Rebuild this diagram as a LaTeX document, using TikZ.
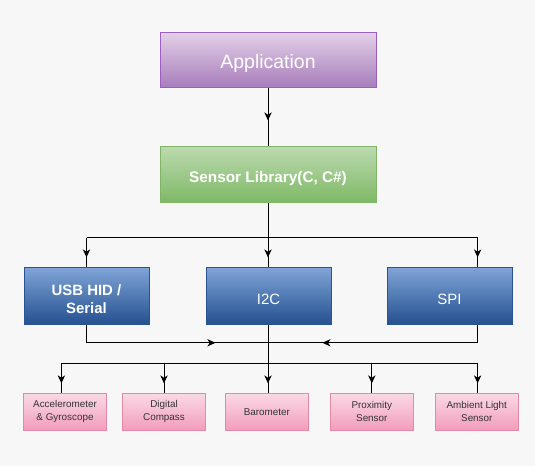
\documentclass[tikz,border=0pt]{standalone}
\usepackage{fontspec}
\setmainfont{Liberation Sans}
\usetikzlibrary{arrows.meta,decorations.markings}
\definecolor{bg}{HTML}{F7F7F7}
\definecolor{purT}{HTML}{E3CFE8}
\definecolor{purB}{HTML}{A67CBA}
\definecolor{purD}{HTML}{9A5FC0}
\definecolor{grnT}{HTML}{BBDAAE}
\definecolor{grnB}{HTML}{7EB866}
\definecolor{grnD}{HTML}{82B366}
\definecolor{bluT}{HTML}{7FA3D6}
\definecolor{bluB}{HTML}{23508F}
\definecolor{bluD}{HTML}{2A5391}
\definecolor{pnkT}{HTML}{FADAE6}
\definecolor{pnkB}{HTML}{F29DBB}
\definecolor{pnkD}{HTML}{E48AA8}
\definecolor{txt}{HTML}{333333}
\tikzset{
  box/.style={rectangle, inner sep=0pt, line width=0.75pt, align=center},
  appbox/.style={box, top color=purT, bottom color=purB, draw=purD, text=white,
    minimum width=162pt, minimum height=41.25pt, font=\fontsize{14.6}{17}\selectfont,
    text height=12pt, text depth=0pt},
  libbox/.style={box, top color=grnT, bottom color=grnB, draw=grnD, text=white,
    minimum width=162pt, minimum height=42pt, font=\fontsize{11.5}{13.5}\selectfont\bfseries,
    text height=12pt, text depth=0pt},
  busbox/.style={box, top color=bluT, bottom color=bluB, draw=bluD, text=white,
    minimum width=93.75pt, minimum height=42.75pt, font=\fontsize{11.2}{13.2}\selectfont},
  senbox/.style={box, top color=pnkT, bottom color=pnkB, draw=pnkD, text=txt,
    minimum width=62.25pt, minimum height=27.75pt, font=\fontsize{7.4}{9.2}\selectfont},
  conn/.style={line width=0.75pt, black},
  arrowat/.style={conn, postaction={decorate}, decoration={markings,
    mark=at position #1 with {\arrow{Stealth[length=6pt,width=5.5pt,inset=1.8pt]}}}}
}
\begin{document}
\begin{tikzpicture}[x=0.75pt,y=-0.75pt]
\fill[bg] (0,0) rectangle (535,466);
\useasboundingbox (0,0) rectangle (535,466);
% nodes
\node[appbox] (app) at (268,60.5) {Application};
\node[libbox] (lib) at (268,175) {Sensor Library(C, C\#)};
\node[busbox, font=\fontsize{11.2}{13.2}\selectfont\bfseries, text height=25pt, text depth=0pt] (usb) at (86.5,296.5) {USB HID /\\Serial};
\node[busbox, text height=12.5pt, text depth=0pt] (i2c) at (268.5,296.5) {I2C};
\node[busbox, text height=12.5pt, text depth=0pt] (spi) at (449.5,296.5) {SPI};
\node[senbox] (acc) at (65,411.5) {Accelerometer\\\& Gyroscope};
\node[senbox] (cmp) at (164,411.5) {Digital\\Compass};
\node[senbox, text height=6pt, text depth=0pt] (bar) at (266.8,411.5) {Barometer};
\node[senbox] (prx) at (371.8,411.5) {Proximity\\Sensor};
\node[senbox] (amb) at (476.8,411.5) {Ambient Light\\Sensor};
% bus coordinates
\coordinate (busL) at (86.5,237.7);
\coordinate (busC) at (268,237.7);
\coordinate (busR) at (477.6,237.7);
\coordinate (retL) at (86.5,342.8);
\coordinate (retC) at (268,342.8);
\coordinate (retR) at (477.6,342.8);
\coordinate (senC) at (268,363);
\coordinate (senL) at (61.4,363);
\coordinate (senR) at (477.6,363);
% connectors
\draw[arrowat=0.55] (app) -- (lib);
\draw[conn] (lib) -- (busC);
\draw[conn] (busL) -- (busR);
\draw[arrowat=0.66] (busL) -- (usb.north);
\draw[arrowat=0.66] (busC) -- (busC |- i2c.north);
\draw[arrowat=0.66] (busR) -- (busR |- spi.north);
\draw[conn] (usb.south) -- (retL);
\draw[arrowat=0.71] (retL) -- (retC);
\draw[conn] (busR |- spi.south) -- (retR);
\draw[arrowat=0.74] (retR) -- (retC);
\draw[conn] (busC |- i2c.south) -- (senC);
\draw[conn] (senL) -- (senR);
\draw[arrowat=0.69] (senL) -- (senL |- acc.north);
\draw[arrowat=0.69] (cmp.north |- senC) -- (cmp.north);
\draw[arrowat=0.69] (senC) -- (senC |- bar.north);
\draw[arrowat=0.69] (prx.north |- senC) -- (prx.north);
\draw[arrowat=0.69] (senR) -- (senR |- amb.north);
\end{tikzpicture}
\end{document}
